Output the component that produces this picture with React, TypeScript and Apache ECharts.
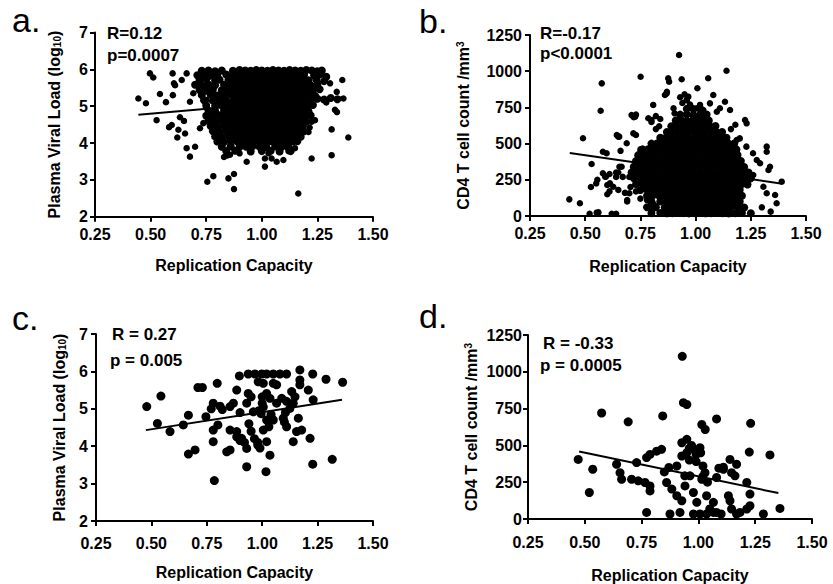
import React, { useEffect, useRef } from "react";
import * as echarts from "echarts";

// ---------- data ----------
const panelLabels = ["a.", "b.", "c.", "d."];
const statR = ["R=0.12", "R=-0.17", "R = 0.27", "R = -0.33"];
const statP = ["p=0.0007", "p<0.0001", "p = 0.005", "p = 0.0005"];
const xTitle = "Replication Capacity";

// Panel a: replication capacity vs plasma viral load (log10), full cohort
const aOutliers = [
  [0.445, 5.21], [0.479, 5.08], [0.497, 5.89], [0.512, 5.78], [0.527, 4.62], [0.542, 5.33], [0.569, 5.11],
  [0.583, 4.43], [0.595, 4.49], [0.599, 5.89], [0.61, 5.57], [0.62, 4.15], [0.625, 4.36], [0.632, 4.7],
  [0.65, 4.6], [0.64, 5.71], [0.662, 5.89], [0.655, 4.26], [0.662, 3.86], [0.677, 3.63], [0.7, 3.9],
  [0.677, 5.12], [0.692, 5.35], [0.722, 4.4], [0.737, 4.54], [0.755, 2.95], [0.782, 3.1], [0.85, 3.04],
  [0.875, 3.16], [0.875, 2.75], [0.83, 3.62], [0.845, 3.66], [0.932, 3.49], [1.014, 3.58], [1.014, 3.36],
  [1.044, 3.58], [1.067, 3.49], [1.164, 2.63], [1.224, 3.58], [1.314, 3.67], [1.314, 4.37], [1.389, 4.15],
  [1.329, 4.9], [1.338, 4.84], [1.307, 5.62], [1.362, 5.71], [1.367, 5.21], [1.337, 5.39], [1.224, 4.58],
  [1.239, 4.62], [1.21, 4.3], [1.215, 4.42], [1.29, 5.1], [0.605, 5.62], [0.6, 5.3], [0.75, 5.17],
  [0.9, 3.72], [0.857, 3.68], [1.0, 3.8], [1.097, 3.54], [1.03, 3.72], [1.149, 3.86], [1.12, 3.78]
];
const aCore = [
  [0.73, 5.96], [0.76, 5.97], [0.79, 5.95], [0.82, 5.97], [0.87, 5.96], [0.9, 5.98], [0.925, 5.97], [0.95, 5.96],
  [0.975, 5.98], [1.0, 5.97], [1.025, 5.96], [1.05, 5.98], [1.075, 5.97], [1.1, 5.96], [1.125, 5.98], [1.15, 5.97],
  [1.175, 5.96], [1.2, 5.98], [1.225, 5.97], [1.25, 5.95], [1.27, 5.97],
  [0.71, 5.84], [0.74, 5.86], [0.77, 5.83], [0.8, 5.85], [0.84, 5.86], [0.87, 5.84], [0.89, 5.85], [0.92, 5.86],
  [0.94, 5.84], [0.965, 5.85], [0.99, 5.86], [1.015, 5.84], [1.04, 5.85], [1.065, 5.86], [1.09, 5.84], [1.115, 5.85],
  [1.14, 5.86], [1.165, 5.84], [1.19, 5.85], [1.235, 5.83], [1.26, 5.86], [1.29, 5.8],
  [0.72, 5.71], [0.75, 5.73], [0.79, 5.7], [0.81, 5.72], [0.85, 5.71], [0.88, 5.73], [0.905, 5.72], [0.93, 5.7],
  [0.955, 5.72], [0.98, 5.73], [1.005, 5.71], [1.03, 5.72], [1.055, 5.7], [1.08, 5.73], [1.105, 5.72], [1.13, 5.71],
  [1.155, 5.72], [1.18, 5.73], [1.21, 5.7], [1.245, 5.72], [1.28, 5.68],
  [0.7, 5.58], [0.73, 5.56], [0.76, 5.59], [0.79, 5.57], [0.83, 5.58], [0.86, 5.6], [0.89, 5.57], [0.915, 5.58],
  [0.94, 5.56], [0.965, 5.59], [0.99, 5.58], [1.015, 5.57], [1.04, 5.59], [1.065, 5.58], [1.09, 5.56], [1.115, 5.58],
  [1.14, 5.59], [1.165, 5.57], [1.19, 5.58], [1.22, 5.56], [1.25, 5.59],
  [0.72, 5.44], [0.75, 5.42], [0.78, 5.45], [0.82, 5.43], [0.85, 5.44], [0.875, 5.46], [0.9, 5.43], [0.925, 5.44],
  [0.95, 5.45], [0.975, 5.43], [1.0, 5.44], [1.025, 5.46], [1.05, 5.44], [1.075, 5.43], [1.1, 5.45], [1.125, 5.44],
  [1.15, 5.42], [1.175, 5.45], [1.2, 5.44], [1.23, 5.43], [1.26, 5.46],
  [0.73, 5.3], [0.77, 5.31], [0.8, 5.29], [0.83, 5.3], [0.86, 5.32], [0.885, 5.3], [0.91, 5.29], [0.935, 5.31],
  [0.96, 5.3], [0.985, 5.28], [1.01, 5.3], [1.035, 5.31], [1.06, 5.29], [1.085, 5.3], [1.11, 5.32], [1.135, 5.3],
  [1.16, 5.29], [1.185, 5.31], [1.21, 5.3], [1.24, 5.28],
  [0.74, 5.16], [0.78, 5.15], [0.81, 5.17], [0.84, 5.16], [0.87, 5.14], [0.895, 5.16], [0.92, 5.17], [0.945, 5.15],
  [0.97, 5.16], [0.995, 5.17], [1.02, 5.15], [1.045, 5.16], [1.07, 5.14], [1.095, 5.16], [1.12, 5.17], [1.145, 5.15],
  [1.17, 5.16], [1.195, 5.18], [1.22, 5.16], [1.25, 5.2], [1.28, 5.18], [1.31, 5.22], [1.34, 5.19],
  [0.75, 5.02], [0.79, 5.01], [0.82, 5.03], [0.85, 5.02], [0.88, 5.0], [0.905, 5.02], [0.93, 5.03], [0.955, 5.01],
  [0.98, 5.02], [1.005, 5.03], [1.03, 5.01], [1.055, 5.02], [1.08, 5.0], [1.105, 5.02], [1.13, 5.03], [1.155, 5.01],
  [1.18, 5.02], [1.205, 5.0], [1.23, 5.03],
  [0.76, 4.88], [0.79, 4.87], [0.83, 4.89], [0.86, 4.88], [0.885, 4.86], [0.91, 4.88], [0.935, 4.89], [0.96, 4.87],
  [0.985, 4.88], [1.01, 4.89], [1.035, 4.87], [1.06, 4.88], [1.085, 4.86], [1.11, 4.88], [1.135, 4.89], [1.16, 4.87],
  [1.185, 4.88], [1.21, 4.86],
  [0.75, 4.74], [0.78, 4.73], [0.81, 4.75], [0.84, 4.74], [0.87, 4.72], [0.895, 4.74], [0.92, 4.75], [0.945, 4.73],
  [0.97, 4.74], [0.995, 4.75], [1.02, 4.73], [1.045, 4.74], [1.07, 4.72], [1.095, 4.74], [1.12, 4.75], [1.145, 4.73],
  [1.17, 4.74], [1.195, 4.72], [1.22, 4.75],
  [0.76, 4.6], [0.79, 4.59], [0.82, 4.61], [0.85, 4.6], [0.875, 4.58], [0.9, 4.6], [0.925, 4.61], [0.95, 4.59],
  [0.975, 4.6], [1.0, 4.61], [1.025, 4.59], [1.05, 4.6], [1.075, 4.58], [1.1, 4.6], [1.125, 4.61], [1.15, 4.59],
  [1.175, 4.6], [1.2, 4.58],
  [0.77, 4.46], [0.8, 4.45], [0.83, 4.47], [0.86, 4.46], [0.885, 4.44], [0.91, 4.46], [0.935, 4.47], [0.96, 4.45],
  [0.985, 4.46], [1.01, 4.47], [1.035, 4.45], [1.06, 4.46], [1.085, 4.44], [1.11, 4.46], [1.135, 4.47], [1.16, 4.45],
  [1.185, 4.46],
  [0.78, 4.32], [0.81, 4.31], [0.84, 4.33], [0.87, 4.32], [0.895, 4.3], [0.92, 4.32], [0.945, 4.33], [0.97, 4.31],
  [0.995, 4.32], [1.02, 4.33], [1.045, 4.31], [1.07, 4.32], [1.095, 4.3], [1.12, 4.32], [1.145, 4.33], [1.17, 4.31],
  [1.19, 4.32],
  [0.79, 4.18], [0.82, 4.17], [0.85, 4.19], [0.88, 4.18], [0.905, 4.16], [0.93, 4.18], [0.955, 4.19], [0.98, 4.17],
  [1.005, 4.18], [1.03, 4.19], [1.055, 4.17], [1.08, 4.18], [1.105, 4.16], [1.13, 4.18], [1.155, 4.19], [1.175, 4.17],
  [0.8, 4.04], [0.83, 4.03], [0.86, 4.05], [0.89, 4.04], [0.915, 4.02], [0.94, 4.04], [0.965, 4.05], [0.99, 4.03],
  [1.015, 4.04], [1.04, 4.05], [1.065, 4.03], [1.09, 4.04], [1.115, 4.02], [1.14, 4.04], [1.16, 4.05],
  [0.82, 3.9], [0.86, 3.91], [0.9, 3.89], [0.93, 3.9], [0.96, 3.92], [0.99, 3.9], [1.02, 3.89], [1.06, 3.91],
  [1.09, 3.9], [1.12, 3.88],
  [0.84, 3.78], [0.88, 3.79], [0.95, 3.77], [1.0, 3.78], [1.04, 3.79], [1.08, 3.77], [1.13, 3.78]
];
const aFit = [[0.445, 4.77], [1.375, 5.25]];

// Panel b: replication capacity vs CD4 T cell count, full cohort
const bOutliers = [
  [1.08, 1273], [0.925, 1112], [1.14, 1003], [0.575, 916], [0.751, 962], [0.876, 951], [0.88, 928], [0.937, 944],
  [1.057, 951], [0.57, 727], [1.008, 882], [1.08, 836], [0.869, 847], [0.861, 836], [0.93, 820], [0.95, 840],
  [0.96, 800], [0.94, 780], [0.975, 770], [0.428, 115], [0.476, 88], [0.49, 537], [0.526, 200], [0.58, 444],
  [0.59, 272], [0.6, 214], [0.61, 290], [0.65, 548], [0.64, 300], [0.655, 340], [0.66, 450], [0.64, 270],
  [0.7, 157], [0.69, 100], [0.72, 682], [0.73, 700], [0.75, 440], [0.76, 320], [0.78, 110], [0.8, 60],
  [0.81, 80], [0.8, 650], [0.82, 690], [0.84, 670], [0.87, 858], [0.552, 23], [0.64, 15], [0.6, 150],
  [0.61, 170], [0.643, 559], [0.654, 548], [0.688, 502], [0.718, 571], [0.73, 559], [0.71, 697], [0.726, 686],
  [0.786, 675], [0.8, 663], [0.808, 767], [0.9, 744], [0.905, 709], [0.96, 801], [0.967, 824], [1.005, 744],
  [1.02, 767], [1.035, 732], [1.065, 778], [1.096, 720], [1.11, 744], [1.133, 789], [1.156, 732], [1.224, 663],
  [1.231, 640], [1.16, 600], [1.18, 630], [1.186, 525], [1.2, 536], [1.23, 479], [1.26, 433], [1.277, 387],
  [1.292, 364], [1.322, 479], [1.322, 444], [1.337, 340], [1.33, 318], [1.39, 237], [1.261, 283], [1.307, 202],
  [1.322, 157], [1.36, 145], [1.367, 88], [1.3, 60], [1.34, 30], [0.529, 359], [0.597, 433], [0.58, 295],
  [0.594, 272], [0.612, 226], [0.627, 202], [0.55, 225], [0.555, 250], [0.65, 300], [0.665, 340], [0.67, 270],
  [0.65, 180], [0.68, 160], [0.69, 110], [0.52, 15], [0.56, 25], [0.62, 15], [0.7, 270], [0.705, 200],
  [0.73, 170], [0.75, 120], [0.74, 420], [0.75, 460], [0.82, 600], [0.835, 620]
];
const bCore = [
  [0.96, 740], [0.99, 738], [1.02, 742],
  [0.93, 700], [0.96, 702], [0.99, 698], [1.02, 700], [1.05, 701],
  [0.91, 660], [0.935, 662], [0.96, 658], [0.985, 660], [1.01, 661], [1.035, 659], [1.06, 660],
  [0.89, 620], [0.915, 621], [0.94, 619], [0.965, 620], [0.99, 622], [1.015, 620], [1.04, 618], [1.065, 620], [1.09, 621],
  [0.87, 580], [0.895, 581], [0.92, 579], [0.945, 580], [0.97, 582], [0.995, 580], [1.02, 578], [1.045, 580],
  [1.07, 581], [1.095, 579], [1.12, 580],
  [0.84, 540], [0.865, 541], [0.89, 539], [0.915, 540], [0.94, 542], [0.965, 540], [0.99, 538], [1.015, 540],
  [1.04, 541], [1.065, 539], [1.09, 540], [1.115, 542], [1.14, 540],
  [0.8, 500], [0.825, 501], [0.85, 499], [0.875, 500], [0.9, 502], [0.925, 500], [0.95, 498], [0.975, 500],
  [1.0, 501], [1.025, 499], [1.05, 500], [1.075, 502], [1.1, 500], [1.125, 498], [1.15, 500], [1.175, 501],
  [0.76, 460], [0.785, 461], [0.81, 459], [0.835, 460], [0.86, 462], [0.885, 460], [0.91, 458], [0.935, 460],
  [0.96, 461], [0.985, 459], [1.01, 460], [1.035, 462], [1.06, 460], [1.085, 458], [1.11, 460], [1.135, 461],
  [1.16, 459], [1.185, 460],
  [0.74, 420], [0.765, 421], [0.79, 419], [0.815, 420], [0.84, 422], [0.865, 420], [0.89, 418], [0.915, 420],
  [0.94, 421], [0.965, 419], [0.99, 420], [1.015, 422], [1.04, 420], [1.065, 418], [1.09, 420], [1.115, 421],
  [1.14, 419], [1.165, 420], [1.19, 422],
  [0.73, 380], [0.755, 381], [0.78, 379], [0.805, 380], [0.83, 382], [0.855, 380], [0.88, 378], [0.905, 380],
  [0.93, 381], [0.955, 379], [0.98, 380], [1.005, 382], [1.03, 380], [1.055, 378], [1.08, 380], [1.105, 381],
  [1.13, 379], [1.155, 380], [1.18, 382], [1.205, 380],
  [0.72, 340], [0.745, 341], [0.77, 339], [0.795, 340], [0.82, 342], [0.845, 340], [0.87, 338], [0.895, 340],
  [0.92, 341], [0.945, 339], [0.97, 340], [0.995, 342], [1.02, 340], [1.045, 338], [1.07, 340], [1.095, 341],
  [1.12, 339], [1.145, 340], [1.17, 342], [1.195, 340], [1.22, 338],
  [0.71, 300], [0.74, 301], [0.765, 299], [0.79, 300], [0.815, 302], [0.84, 300], [0.865, 298], [0.89, 300],
  [0.915, 301], [0.94, 299], [0.965, 300], [0.99, 302], [1.015, 300], [1.04, 298], [1.065, 300], [1.09, 301],
  [1.115, 299], [1.14, 300], [1.165, 302], [1.19, 300], [1.215, 298], [1.24, 300],
  [0.72, 260], [0.75, 261], [0.775, 259], [0.8, 260], [0.825, 262], [0.85, 260], [0.875, 258], [0.9, 260],
  [0.925, 261], [0.95, 259], [0.975, 260], [1.0, 262], [1.025, 260], [1.05, 258], [1.075, 260], [1.1, 261],
  [1.125, 259], [1.15, 260], [1.175, 262], [1.2, 260], [1.225, 258], [1.25, 260],
  [0.73, 220], [0.76, 221], [0.785, 219], [0.81, 220], [0.835, 222], [0.86, 220], [0.885, 218], [0.91, 220],
  [0.935, 221], [0.96, 219], [0.985, 220], [1.01, 222], [1.035, 220], [1.06, 218], [1.085, 220], [1.11, 221],
  [1.135, 219], [1.16, 220], [1.185, 222], [1.21, 220], [1.235, 218],
  [0.75, 180], [0.78, 181], [0.8, 179], [0.825, 180], [0.85, 182], [0.875, 180], [0.9, 178], [0.925, 180],
  [0.95, 181], [0.975, 179], [1.0, 180], [1.025, 182], [1.05, 180], [1.075, 178], [1.1, 180], [1.125, 181],
  [1.15, 179], [1.175, 180], [1.2, 182],
  [0.78, 140], [0.805, 141], [0.835, 139], [0.86, 140], [0.885, 142], [0.91, 140], [0.935, 138], [0.96, 140],
  [0.985, 141], [1.01, 139], [1.035, 140], [1.06, 142], [1.085, 140], [1.11, 138], [1.135, 140], [1.16, 141],
  [1.185, 139], [1.21, 140],
  [0.8, 100], [0.84, 101], [0.87, 99], [0.895, 100], [0.92, 102], [0.945, 100], [0.97, 98], [0.995, 100],
  [1.02, 101], [1.045, 99], [1.07, 100], [1.095, 102], [1.12, 100], [1.145, 98], [1.17, 100], [1.2, 101],
  [0.78, 60], [0.82, 61], [0.86, 59], [0.885, 60], [0.91, 62], [0.935, 60], [0.96, 58], [0.985, 60],
  [1.01, 61], [1.035, 59], [1.06, 60], [1.085, 62], [1.11, 60], [1.135, 58], [1.16, 60], [1.19, 61], [1.22, 59],
  [0.8, 20], [0.84, 21], [0.87, 19], [0.895, 20], [0.92, 22], [0.945, 20], [0.97, 18], [0.995, 20],
  [1.02, 21], [1.045, 19], [1.07, 20], [1.095, 22], [1.12, 20], [1.15, 18], [1.18, 20], [1.21, 21], [1.25, 19]
];
const bFit = [[0.43, 435], [1.385, 225]];

// Panel c: subset, replication capacity vs plasma viral load (log10)
const cPoints = [
  [0.479, 5.06], [0.543, 5.34], [0.527, 4.61], [0.584, 4.39], [0.644, 4.57], [0.667, 4.83], [0.667, 3.79],
  [0.697, 3.9], [0.71, 5.57], [0.73, 5.57], [0.746, 4.79], [0.797, 5.68], [0.779, 5.15], [0.81, 5.07],
  [0.779, 4.43], [0.8, 4.57], [0.779, 4.12], [0.784, 3.08], [0.855, 5.06], [0.87, 5.15], [0.855, 4.43],
  [0.855, 3.9], [0.885, 5.5], [0.897, 5.88], [0.885, 4.39], [0.907, 4.21], [0.93, 5.15], [0.937, 5.41],
  [0.95, 5.32], [0.93, 3.94], [0.93, 3.45], [0.95, 4.4], [0.965, 4.2], [0.98, 4.1], [0.937, 5.93],
  [0.967, 5.93], [0.998, 5.93], [1.02, 5.93], [1.05, 5.93], [1.08, 5.93], [1.11, 5.93], [0.982, 5.72],
  [1.005, 5.68], [1.05, 5.68], [1.065, 5.64], [0.96, 4.92], [0.985, 4.95], [0.995, 4.87], [1.005, 5.05],
  [1.0, 5.32], [1.02, 5.41], [1.035, 5.28], [1.02, 4.7], [1.03, 4.52], [1.005, 4.43], [0.98, 4.03],
  [1.02, 4.12], [1.035, 3.76], [1.017, 3.32], [1.065, 5.15], [1.088, 5.28], [1.095, 4.75], [1.11, 4.52],
  [1.133, 5.46], [1.148, 5.32], [1.14, 5.15], [1.125, 5.01], [1.17, 6.04], [1.17, 5.77], [1.17, 5.64],
  [1.208, 5.5], [1.163, 4.75], [1.14, 4.12], [1.155, 4.39], [1.178, 4.43], [1.216, 4.21], [1.228, 5.93],
  [1.23, 5.24], [1.228, 3.52], [1.288, 5.79], [1.316, 3.65], [1.363, 5.71], [0.94, 4.6], [0.77, 5.0],
  [0.82, 4.98], [0.9, 4.9], [1.0, 5.15], [1.04, 4.85], [1.05, 4.7], [0.885, 4.25], [0.9, 4.15],
  [0.92, 4.1], [0.84, 3.85], [0.99, 3.95], [1.1, 4.65], [1.105, 4.9], [1.11, 5.2]
];
const cFit = [[0.475, 4.43], [1.36, 5.24]];

// Panel d: subset, replication capacity vs CD4 T cell count
const dPoints = [
  [0.471, 405], [0.535, 338], [0.52, 180], [0.574, 720], [0.691, 660], [0.843, 700], [0.929, 1105],
  [0.934, 790], [0.949, 778], [1.08, 680], [1.23, 650], [1.015, 642], [1.03, 608], [1.315, 435], [1.224, 455],
  [1.359, 72], [0.64, 372], [0.655, 315], [0.662, 270], [0.706, 270], [0.735, 259], [0.765, 248], [0.787, 225],
  [0.787, 191], [0.728, 383], [0.772, 417], [0.787, 439], [0.816, 461], [0.838, 473], [0.772, 45], [0.86, 248],
  [0.883, 203], [0.905, 158], [0.927, 124], [0.875, 34], [0.919, 45], [0.905, 360], [0.927, 428], [0.949, 450],
  [0.927, 518], [0.949, 541], [0.978, 473], [1.007, 484], [0.99, 439], [1.01, 450], [0.941, 225], [0.963, 293],
  [1.02, 360], [1.029, 315], [1.015, 270], [0.978, 180], [0.993, 113], [1.036, 158], [1.066, 113], [1.05, 68],
  [1.08, 45], [1.036, 34], [1.007, 34], [0.978, 34], [1.08, 282], [1.11, 338], [1.09, 345], [1.11, 352],
  [1.139, 405], [1.168, 372], [1.146, 315], [1.161, 293], [1.132, 158], [1.139, 124], [1.213, 248], [1.227, 169],
  [1.227, 90], [1.213, 68], [1.183, 45], [1.168, 34], [1.286, 34], [1.02, 290], [1.04, 250], [1.066, 45],
  [1.1, 34], [1.146, 68], [0.94, 293], [0.87, 350], [0.85, 320], [0.96, 480], [0.97, 500], [0.99, 390], [0.96, 400]
];
const dFit = [[0.475, 458], [1.352, 176]];

// ---------- layout ----------
const FONT = "'Liberation Sans', Arial, Helvetica, sans-serif";
const grids = [
  { left: 95, top: 32.5, width: 278, height: 184.2 },
  { left: 530, top: 35, width: 276, height: 181 },
  { left: 96, top: 334, width: 277, height: 187 },
  { left: 528, top: 335, width: 284, height: 185 }
];
const xLabelMargin = [10, 9, 14, 15];
const xNameGap = [41, 42, 43, 48];
const yLabelMargin = [7, 8, 8, 6];
const yNameGap = [33, 59, 29, 49];
const labelPos = [[12, 20], [419, 21], [12, 318], [419, 316]];
const rPos = [[107, 33], [540, 33], [112, 334], [543, 343]];
const pPos = [[107, 55], [540, 53], [110, 360], [540, 365]];

export default function App() {
  const ref = useRef<HTMLDivElement>(null);
  useEffect(() => {
    document.body.style.margin = "0";
    if (!ref.current) return;
    const chart = echarts.init(ref.current, null, { renderer: "svg" });
    const black = "#000";
    const isLoad = [true, false, true, false];
    // each panel: list of [points, symbolSize]
    const scatterSets: [number[][], number][][] = [
      [[aOutliers, 6.5], [aCore, 8]],
      [[bOutliers, 6.5], [bCore, 8]],
      [[cPoints, 9]],
      [[dPoints, 9]]
    ];
    const fits = [aFit, bFit, cFit, dFit];

    const xAxis = grids.map((_, i) => ({
      gridIndex: i,
      type: "value",
      min: 0.25,
      max: 1.5,
      interval: 0.25,
      axisLine: { onZero: false, lineStyle: { color: black, width: 2 } },
      axisTick: { length: 5, lineStyle: { color: black, width: 2 } },
      splitLine: { show: false },
      axisLabel: {
        formatter: (v: number) => v.toFixed(2),
        fontSize: 16,
        fontWeight: "bold",
        fontFamily: FONT,
        color: black,
        margin: xLabelMargin[i]
      },
      name: xTitle,
      nameLocation: "middle",
      nameGap: xNameGap[i],
      nameTextStyle: { fontSize: 16, fontWeight: "bold", fontFamily: FONT, color: black }
    }));

    const yAxis = grids.map((_, i) => ({
      gridIndex: i,
      type: "value",
      min: isLoad[i] ? 2 : 0,
      max: isLoad[i] ? 7 : 1250,
      interval: isLoad[i] ? 1 : 250,
      axisLine: { onZero: false, lineStyle: { color: black, width: 2 } },
      axisTick: { length: 5, lineStyle: { color: black, width: 2 } },
      splitLine: { show: false },
      axisLabel: {
        formatter: (v: number) => String(v),
        fontSize: 16,
        fontWeight: "bold",
        fontFamily: FONT,
        color: black,
        margin: yLabelMargin[i]
      },
      name: isLoad[i] ? "{t|Plasma Viral Load (log}{s|10}{t|)}" : "{t|CD4 T cell count /mm}{u|3}",
      nameLocation: "middle",
      nameGap: yNameGap[i],
      nameTextStyle: {
        color: black,
        rich: {
          t: { fontSize: 16, fontWeight: "bold", fontFamily: FONT, color: black },
          s: { fontSize: 10, fontWeight: "bold", fontFamily: FONT, color: black, verticalAlign: "bottom" },
          u: { fontSize: 10, fontWeight: "bold", fontFamily: FONT, color: black, verticalAlign: "top" }
        }
      }
    }));

    const series: any[] = [];
    scatterSets.forEach((sets, i) => {
      sets.forEach(([d, size]) => {
        series.push({
          type: "scatter",
          xAxisIndex: i,
          yAxisIndex: i,
          data: d,
          symbol: "circle",
          symbolSize: size,
          itemStyle: { color: black, opacity: 1 },
          silent: true
        });
      });
      series.push({
        type: "line",
        xAxisIndex: i,
        yAxisIndex: i,
        data: fits[i],
        symbol: "none",
        lineStyle: { color: black, width: 2 },
        z: 5,
        silent: true
      });
    });

    const graphic: any[] = [];
    panelLabels.forEach((t, i) => {
      graphic.push({
        type: "text",
        x: labelPos[i][0],
        y: labelPos[i][1],
        style: { text: t, fontSize: 34, fontFamily: FONT, fill: black, verticalAlign: "middle", align: "left" }
      });
      graphic.push({
        type: "text",
        x: rPos[i][0],
        y: rPos[i][1],
        style: { text: statR[i], fontSize: 17, fontWeight: "bold", fontFamily: FONT, fill: black, verticalAlign: "middle", align: "left" }
      });
      graphic.push({
        type: "text",
        x: pPos[i][0],
        y: pPos[i][1],
        style: { text: statP[i], fontSize: 17, fontWeight: "bold", fontFamily: FONT, fill: black, verticalAlign: "middle", align: "left" }
      });
    });

    chart.setOption({
      animation: false,
      backgroundColor: "#fff",
      grid: grids.map((g) => ({ ...g, containLabel: false })),
      xAxis,
      yAxis,
      series,
      graphic
    });
    return () => chart.dispose();
  }, []);
  return <div ref={ref} style={{ width: 833, height: 584 }} />;
}
